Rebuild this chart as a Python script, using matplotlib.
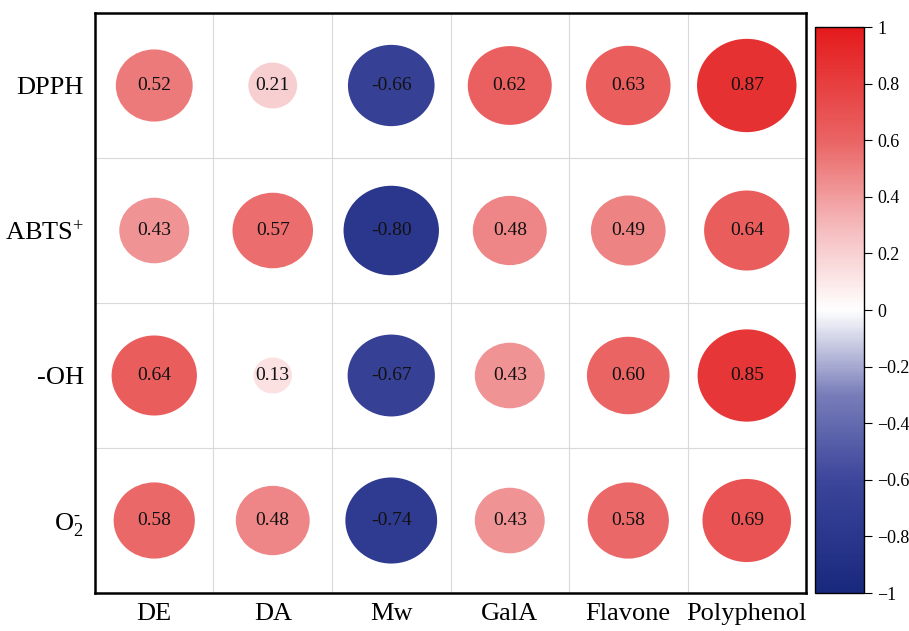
import numpy as np
import matplotlib.pyplot as plt
from matplotlib.patches import Ellipse
from matplotlib.colors import LinearSegmentedColormap, Normalize
from matplotlib.cm import ScalarMappable

plt.rcParams['font.family'] = 'Liberation Serif'
plt.rcParams['mathtext.fontset'] = 'custom'
plt.rcParams['mathtext.rm'] = 'Liberation Serif'
plt.rcParams['mathtext.it'] = 'Liberation Serif:italic'

columns = ['DE', 'DA', 'Mw', 'GalA', 'Flavone', 'Polyphenol']
rows = ['DPPH', r'ABTS$^{\mathrm{+}}$', '-OH', r'O$_{\mathrm{2}}^{\text{-}}$']

dpph = [0.52, 0.21, -0.66, 0.62, 0.63, 0.87]
abts = [0.43, 0.57, -0.80, 0.48, 0.49, 0.64]
oh = [0.64, 0.13, -0.67, 0.43, 0.60, 0.85]
o2 = [0.58, 0.48, -0.74, 0.43, 0.58, 0.69]

cbar_ticks = [-1, -0.8, -0.6, -0.4, -0.2, 0, 0.2, 0.4, 0.6, 0.8, 1]

corr = np.array([dpph, abts, oh, o2])

# blue - white - red diverging map
stops = [
    (0.0, (24 / 255, 40 / 255, 125 / 255)),
    (0.2, (60 / 255, 70 / 255, 155 / 255)),
    (0.35, (120 / 255, 125 / 255, 185 / 255)),
    (0.5, (1.0, 1.0, 1.0)),
    (0.65, (245 / 255, 185 / 255, 187 / 255)),
    (0.8, (234 / 255, 100 / 255, 100 / 255)),
    (1.0, (228 / 255, 26 / 255, 28 / 255)),
]
cmap = LinearSegmentedColormap.from_list('bwr_corr', stops)
norm = Normalize(vmin=-1, vmax=1)

fig = plt.figure(figsize=(9.09, 6.31), dpi=100)
ax = fig.add_axes([0.1045, 0.0602, 0.7822, 0.9192])

n_rows, n_cols = corr.shape
for i in range(n_rows):
    for j in range(n_cols):
        r = corr[i, j]
        s = np.sqrt(abs(r))
        ax.add_patch(Ellipse((j + 0.5, i + 0.5), 0.9 * s, 0.69 * s,
                             facecolor=cmap(norm(r)), edgecolor='none', zorder=2))
        ax.text(j + 0.5, i + 0.5, f"{r:.2f}", ha='center', va='center',
                fontsize=14, color='#111111', zorder=3)

ax.set_xlim(0, n_cols)
ax.set_ylim(n_rows, 0)
ax.set_xticks(np.arange(n_cols) + 0.5)
ax.set_xticklabels(columns, fontsize=19)
ax.set_yticks(np.arange(n_rows) + 0.5)
ax.set_yticklabels(rows, fontsize=19)
ax.set_xticks(np.arange(1, n_cols), minor=True)
ax.set_yticks(np.arange(1, n_rows), minor=True)
ax.grid(True, which='minor', color='#d9d9d9', linewidth=0.8, zorder=0)
ax.tick_params(which='both', length=0)
ax.tick_params(axis='x', pad=7)
ax.tick_params(axis='y', pad=8)
for sp in ax.spines.values():
    sp.set_linewidth(1.8)

cax = fig.add_axes([0.8966, 0.0602, 0.0539, 0.8968])
cb = fig.colorbar(ScalarMappable(norm=norm, cmap=cmap), cax=cax)
cb.set_ticks(cbar_ticks)
cb.set_ticklabels([f"{t:g}".replace('-', '\u2212') for t in cbar_ticks])
cb.ax.tick_params(labelsize=13, length=6, width=0.8)
cb.outline.set_linewidth(1.0)

plt.savefig('out.png', dpi=100)
